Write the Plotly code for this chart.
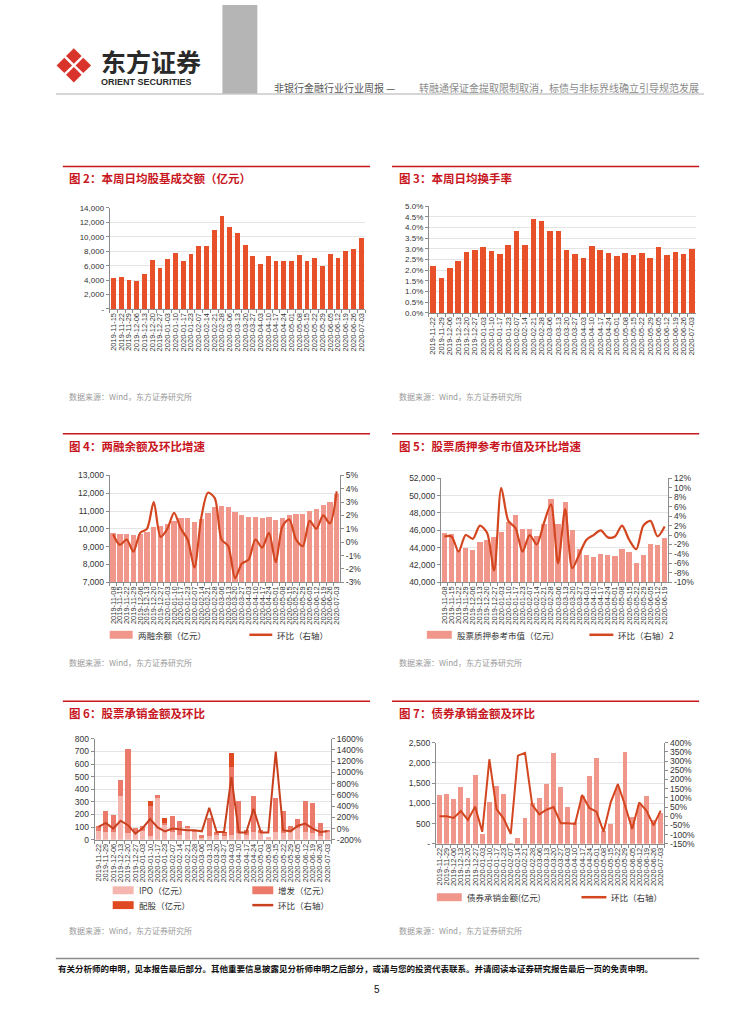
import plotly.graph_objects as go

W, H = 754, 1024
def fx(x): return x / W
def fy(y): return 1 - y / H

# ---------------- DATA ----------------
dates_all = ["2019-11-08","2019-11-15","2019-11-22","2019-11-29","2019-12-06","2019-12-13","2019-12-20","2019-12-27",
             "2020-01-03","2020-01-10","2020-01-17","2020-01-23","2020-02-07","2020-02-14","2020-02-21","2020-02-28",
             "2020-03-06","2020-03-13","2020-03-20","2020-03-27","2020-04-03","2020-04-10","2020-04-17","2020-04-24",
             "2020-05-01","2020-05-08","2020-05-15","2020-05-22","2020-05-29","2020-06-05","2020-06-12","2020-06-19",
             "2020-06-26","2020-07-03"]

# Fig 2: daily average turnover (亿元)
c2_dates = dates_all[1:]
c2_turnover = [4300, 4400, 4000, 3900, 4900, 6800, 5700, 6900, 7700, 6700, 7600, 8800, 8700, 11000, 12900, 11300,
               10600, 8900, 7400, 6300, 7300, 6600, 6700, 6600, 7500, 6600, 7000, 5900, 7600, 7100, 8000, 8300, 9900]

# Fig 3: daily average turnover rate (%)
c3_dates = dates_all[2:]
c3_rate = [2.2, 1.65, 2.1, 2.45, 2.85, 2.95, 3.1, 2.9, 2.75, 3.2, 3.85, 3.2, 4.4, 4.3, 3.85, 3.85,
           2.95, 2.75, 2.55, 3.15, 2.95, 2.8, 2.65, 2.8, 2.7, 2.8, 2.55, 3.1, 2.7, 2.85, 2.75, 3.0]

# Fig 4: margin balance (亿元) and WoW (%)
c4_dates = dates_all
c4_balance = [9750, 9730, 9730, 9680, 9720, 9820, 10100, 10150, 10250, 10450, 10580, 10580, 10380, 10550, 10900, 11250,
              11300, 11250, 10950, 10800, 10650, 10650, 10620, 10680, 10520, 10620, 10800, 10850, 10820, 11000, 11100,
              11320, 11480, 11950]
c4_wow = [0.6, -0.2, 0.2, -0.7, 0.7, 1.0, 3.0, 0.4, 1.0, 2.2, 1.0, 0.2, -1.9, 1.8, 3.7, 3.3,
          0.2, -0.3, -2.7, -1.6, -1.3, 0.2, -0.4, 0.7, -1.5, 1.2, 1.7, 0.2, -0.3, 1.6, 1.0, 2.0, 1.4, 3.8]

# Fig 5: pledged stock market value (亿元) and WoW (%)
c5_dates = dates_all[:32]
c5_value = [45700, 45600, 43700, 44000, 43700, 44700, 44900, 45200, 45800, 47000, 47800, 46200, 46200, 45400, 46700, 49600,
            46700, 49300, 46000, 43800, 43100, 42900, 43300, 43100, 43000, 43800, 43500, 42200, 43100, 44400, 44300, 45100]
c5_wow = [-0.3, -0.3, -3.5, 0.0, -0.8, 2.0, 0.5, -7.5, 10.0, 3.0, 1.5, -3.5, 0.0, -2.0, 2.5, 6.5,
          -6.0, 5.5, -7.0, -4.0, -1.0, 0.0, 1.0, -0.5, -0.3, 2.0, -1.0, -3.0, 2.0, 3.0, -0.3, 1.8]

# Fig 6: equity underwriting (亿元) and WoW (%)
c6_dates = dates_all[2:]
c6_ipo = [70, 60, 60, 350, 50, 60, 70, 30, 330, 120, 60, 40, 90, 60, 15, 30,
          40, 30, 40, 50, 40, 60, 50, 20, 60, 50, 70, 90, 60, 50, 30, 60]
c6_sp = [40, 170, 140, 125, 670, 35, 40, 240, 25, 10, 130, 110, 20, 15, 20, 140,
         25, 25, 540, 260, 40, 290, 25, 0, 270, 180, 40, 75, 250, 245, 105, 15]
c6_rights = [0, 0, 0, 0, 0, 0, 0, 35, 0, 45, 0, 0, 0, 0, 0, 0,
             0, 10, 110, 0, 0, 0, 0, 0, 0, 0, 0, 0, 0, 0, 0, 0]
c6_wow = [30, 100, 0, 140, 60, -90, 10, 170, 20, -50, 0, -20, -30, -30, -50, 370,
          -60, -60, 920, -70, -70, 350, -70, -70, 1370, -30, -50, 50, 90, 0, -60, -50]

# Fig 7: bond underwriting (亿元) and WoW (%)
c7_dates = dates_all[2:]
c7_bond = [1200, 1230, 1100, 1410, 1120, 1700, 250, 1030, 1420, 1230, 30, 140, 630, 1020, 1120, 1490,
           2250, 1400, 900, 540, 1190, 1680, 2120, 320, 500, 1380, 2270, 670, 950, 1180, 590, 770]
c7_wow = [0, 0, -10, 28, -20, 52, -85, 310, 38, -13, -97, 330, 345, 62, 10, 35,
          50, -38, -38, -42, 115, 45, 25, -85, 75, 175, 60, -70, 75, 30, -50, 30]

# ---------------- STYLE ----------------
RED_T = "#C8161E"
BAR_OR = "#E8502A"
BAR_PK = "#F0968A"
LINE_C = "#D4461F"
IPO_C = "#F5B6B0"
SP_C = "#EC7A6A"
RI_C = "#E04A22"
NUMF = "Liberation Sans, Arial, sans-serif"
CJK = "Noto Sans CJK SC, sans-serif"

fig = go.Figure()

def add_bar(x, y, xa, ya, color, width):
    fig.add_trace(go.Bar(x=x, y=y, xaxis=xa, yaxis=ya, width=width,
                         marker=dict(color=color, line=dict(width=0)), showlegend=False))

def add_line(x, y, xa, ya, color, lw, shape="linear"):
    fig.add_trace(go.Scatter(x=x, y=y, xaxis=xa, yaxis=ya, mode="lines",
                             line=dict(color=color, width=lw, shape=shape, smoothing=0.8 if shape == "spline" else None),
                             showlegend=False))

add_bar(c2_dates, c2_turnover, "x", "y", BAR_OR, 0.62)
add_bar(c3_dates, c3_rate, "x2", "y2", BAR_OR, 0.66)
add_bar(c4_dates, c4_balance, "x3", "y3", BAR_PK, 0.78)
add_line(c4_dates, c4_wow, "x3", "y4", LINE_C, 2.2, "spline")
add_bar(c5_dates, c5_value, "x4", "y5", BAR_PK, 0.75)
add_line(c5_dates, c5_wow, "x4", "y6", LINE_C, 2.2, "spline")
add_bar(c6_dates, c6_ipo, "x5", "y7", IPO_C, 0.68)
add_bar(c6_dates, c6_sp, "x5", "y7", SP_C, 0.68)
add_bar(c6_dates, c6_rights, "x5", "y7", RI_C, 0.68)
add_line(c6_dates, c6_wow, "x5", "y8", "#C8401E", 2.0)
add_bar(c7_dates, c7_bond, "x6", "y9", BAR_PK, 0.68)
add_line(c7_dates, c7_wow, "x6", "y10", LINE_C, 2.0)

def xax(x0, x1, anchor, cats, size=7.5):
    return dict(domain=[fx(x0), fx(x1)], anchor=anchor, type="category",
                tickmode="array", tickvals=cats, ticktext=cats, tickangle=-90,
                tickfont=dict(family=NUMF, size=size, color="#333"),
                showline=True, linecolor="#8C8C8C", linewidth=1, ticks="outside", ticklen=3,
                tickcolor="#8C8C8C", tickson="boundaries", showgrid=False, zeroline=False,
                range=[-0.5, len(cats) - 0.5], fixedrange=True)

def yax(y0, y1, anchor, rng, vals, texts, side="left", overlaying=None, grid=True, size=8):
    d = dict(domain=[fy(y1), fy(y0)], anchor=anchor, range=rng, tickmode="array",
             tickvals=vals, ticktext=texts, side=side,
             tickfont=dict(family=NUMF, size=size, color="#333"),
             showline=True, linecolor="#8C8C8C", linewidth=1, ticks="outside", ticklen=3,
             tickcolor="#8C8C8C", showgrid=grid, gridcolor="#E4E4E4", gridwidth=1,
             zeroline=False, fixedrange=True)
    if overlaying:
        d["overlaying"] = overlaying
    return d

def fmt(v):
    return "-" if v == 0 else f"{v:,}"

t2 = list(range(0, 14001, 2000))
t3 = [i * 0.5 for i in range(11)]
t4 = list(range(7000, 13001, 1000))
t4r = list(range(-3, 6))
t5 = list(range(40000, 52001, 2000))
t5r = list(range(-10, 13, 2))
t6 = list(range(0, 801, 100))
t6r = list(range(-200, 1601, 200))
t7 = list(range(0, 2501, 500))
t7r = list(range(-150, 401, 50))

layout = dict(
    width=W, height=H, autosize=False, margin=dict(l=0, r=0, t=0, b=0),
    paper_bgcolor="white", plot_bgcolor="white", barmode="stack", showlegend=False,
    font=dict(family=CJK, color="#333"),
    xaxis=xax(109, 365, "y", c2_dates),
    yaxis=yax(205, 307, "x", [0, 14000], t2, [fmt(v) for v in t2]),
    xaxis2=xax(429, 697, "y2", c3_dates),
    yaxis2=yax(203, 311, "x2", [0, 5.0], t3, [f"{v:.1f}%" for v in t3]),
    xaxis3=xax(109, 340, "y3", c4_dates),
    yaxis3=yax(475, 583, "x3", [7000, 13000], t4, [fmt(v) for v in t4], size=8.5),
    yaxis4=yax(475, 583, "x3", [-3, 5], t4r, [f"{v}%" for v in t4r], side="right", overlaying="y3", grid=False, size=8.5),
    xaxis4=xax(441, 669, "y5", c5_dates),
    yaxis5=yax(478, 583, "x4", [40000, 52000], t5, [fmt(v) for v in t5], size=8.5),
    yaxis6=yax(478, 583, "x4", [-10, 12], t5r, [f"{v}%" for v in t5r], side="right", overlaying="y5", grid=False, size=8.5),
    xaxis5=xax(94, 331, "y7", c6_dates),
    yaxis7=yax(741, 843, "x5", [0, 800], t6, [str(v) for v in t6], size=8.5),
    yaxis8=yax(741, 843, "x5", [-200, 1600], t6r, [f"{v}%" for v in t6r], side="right", overlaying="y7", grid=False, size=8.5),
    xaxis6=xax(436, 665, "y9", c7_dates),
    yaxis9=yax(745, 847, "x6", [0, 2500], t7, [fmt(v) for v in t7], size=8.5),
    yaxis10=yax(745, 847, "x6", [-150, 400], t7r, [f"{v}%" for v in t7r], side="right", overlaying="y9", grid=False, size=8.5),
)
fig.update_layout(**layout)

shapes = []
annots = []

def hline(x0, x1, y, color, w):
    shapes.append(dict(type="line", xref="paper", yref="paper", x0=fx(x0), x1=fx(x1), y0=fy(y), y1=fy(y),
                       line=dict(color=color, width=w)))

def rect(x0, y0, x1, y1, color):
    shapes.append(dict(type="rect", xref="paper", yref="paper", x0=fx(x0), x1=fx(x1), y0=fy(y1), y1=fy(y0),
                       fillcolor=color, line=dict(width=0), layer="above"))

def text(x, y, s, size, color="#333", bold=False, anchor="left", fam=CJK, h=None):
    a = dict(xref="paper", yref="paper", x=fx(x), y=fy(y), text=f"<b>{s}</b>" if bold else s,
             showarrow=False, xanchor=anchor, yanchor="middle", borderpad=0,
             font=dict(family=fam, size=size, color=color))
    if h:
        a["height"] = h
    annots.append(a)

# header
rect(222, 0, 257, 90, "#B5B5B5")
hline(55, 705, 90, "#C8C8C8", 1.5)
text(99, 57, "东方证券", 25, "#2A2A2A", bold=True, h=26)
text(99, 78, "ORIENT SECURITIES", 9, "#2A2A2A", bold=True, fam=NUMF, h=10)
text(273, 83, "非银行金融行业行业周报 —", 10, "#555")
text(418, 83, "转融通保证金提取限制取消，标债与非标界线确立引导规范发展", 10, "#8A8A8A")

# logo: four diamonds forming a larger diamond
cx, cy, r = 73, 61, 19
T, R, B, L, C = (cx, cy - r), (cx + r, cy), (cx, cy + r), (cx - r, cy), (cx, cy)
def mid(a, b): return ((a[0] + b[0]) / 2, (a[1] + b[1]) / 2)
pieces = [[T, mid(T, R), C, mid(T, L)], [mid(T, R), R, mid(R, B), C],
          [C, mid(R, B), B, mid(B, L)], [mid(T, L), C, mid(B, L), L]]
for pc in pieces:
    gx = sum(p[0] for p in pc) / 4
    gy = sum(p[1] for p in pc) / 4
    pts = [(gx + (p[0] - gx) * 0.82, gy + (p[1] - gy) * 0.82) for p in pc]
    path = "M " + " L ".join(f"{fx(p[0])},{fy(p[1])}" for p in pts) + " Z"
    shapes.append(dict(type="path", xref="paper", yref="paper", path=path,
                       fillcolor="#D9342B", line=dict(width=0)))

# chart frames / titles / sources
for (x0, x1, ytop, tx, title) in [
    (62, 370, 163, 67, "图 2：本周日均股基成交额（亿元）"),
    (392, 700, 163, 398, "图 3：本周日均换手率"),
    (62, 370, 433, 67, "图 4：两融余额及环比增速"),
    (392, 700, 433, 398, "图 5：股票质押参考市值及环比增速"),
    (62, 370, 703, 67, "图 6：股票承销金额及环比"),
    (392, 700, 703, 398, "图 7：债券承销金额及环比"),
]:
    hline(x0, x1, ytop, RED_T, 1.5)
    text(tx, ytop + 12, title, 11.5, RED_T, bold=True)

for (x, y) in [(67, 395), (398, 395), (67, 664), (398, 664), (67, 935), (398, 935)]:
    text(x, y, "数据来源：Wind，东方证券研究所", 8, "#9A9A9A")

# legends
def leg_bar(x0, x1, y, color, label):
    rect(x0, y - 4, x1, y + 4, color)
    text(x1 + 4, y, label, 8.5, "#333")

def leg_line(x0, x1, y, color, label):
    shapes.append(dict(type="line", xref="paper", yref="paper", x0=fx(x0), x1=fx(x1), y0=fy(y), y1=fy(y),
                       line=dict(color=color, width=2.5)))
    text(x1 + 4, y, label, 8.5, "#333")

leg_bar(109, 132, 636, BAR_PK, "两融余额（亿元）")
leg_line(249, 272, 636, LINE_C, "环比（右轴）")
leg_bar(427, 452, 636, BAR_PK, "股票质押参考市值（亿元）")
leg_line(590, 614, 636, LINE_C, "环比（右轴）2")
leg_bar(112, 133, 894, IPO_C, "IPO（亿元）")
leg_bar(252, 273, 894, SP_C, "增发（亿元）")
leg_bar(112, 133, 909, RI_C, "配股（亿元）")
leg_line(252, 273, 909, "#C8401E", "环比（右轴）")
leg_bar(437, 462, 901, BAR_PK, "债券承销金额(亿元)")
leg_line(582, 607, 901, LINE_C, "环比（右轴）")

# footer
hline(55, 700, 963, "#8C8C8C", 1.5)
text(56, 973, "有关分析师的申明，见本报告最后部分。其他重要信息披露见分析师申明之后部分，或请与您的投资代表联系。并请阅读本证券研究报告最后一页的免责申明。",
     8.5, "#111", bold=True)
text(377, 994, "5", 10, "#111", anchor="center", fam=NUMF)

fig.update_layout(shapes=shapes, annotations=annots)
fig.write_html("out.html", config={"displayModeBar": False, "staticPlot": True},
               post_script="document.body.style.margin='0';document.body.style.padding='0';document.body.style.overflow='hidden';")
